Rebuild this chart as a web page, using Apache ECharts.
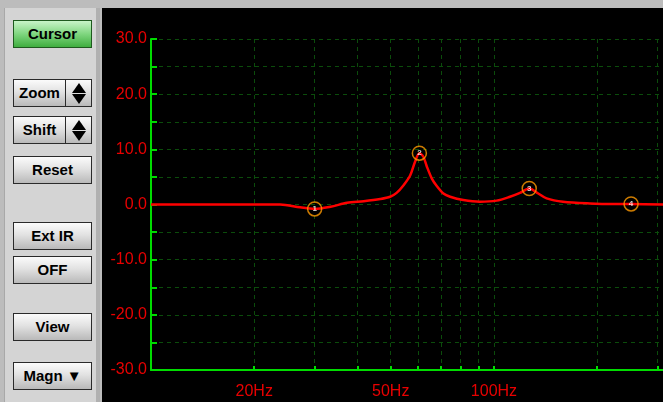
<!DOCTYPE html>
<html>
<head>
<meta charset="UTF-8">
<title>Frequency response</title>
<script src="https://cdn.jsdelivr.net/npm/echarts@6/dist/echarts.min.js"></script>
<style>
	body{
		margin:0;
		width:663px;
		height:402px;
		background:#bcbcbc;
		overflow:hidden;
		position:relative;
		font-family:"Liberation Sans", Arial, sans-serif;
	}
	#panel{
		position:absolute;
		left:4px;
		top:8px;
		width:91px;
		height:394px;
		background:#d4d4d4;
		border-left:1px solid #a8a8a8;
		border-right:4px solid #b0b0b0;
	}
	.btn{
		position:absolute;
		left:13px;
		width:77px;
		height:26px;
		line-height:26px;
		border:1px solid #2a2a2a;
		background:linear-gradient(#fbfbfb, #e2e2e2 45%, #b9b9b9);
		font-weight:bold;
		font-size:15px;
		text-align:center;
		color:#000;
		box-sizing:content-box;
	}
	.green{
		background:linear-gradient(#c8f4c8, #7fd67f 50%, #3fae3f);
		border-color:#1e5a1e;
	}
	.split{ text-align:left; }
	.split .lbl{
		position:absolute;
		left:0;
		top:0;
		width:51px;
		text-align:center;
	}
	.split .arr{
		position:absolute;
		left:51px;
		top:0;
		width:26px;
		height:26px;
		border-left:1px solid #2a2a2a;
	}
	.tri-up,.tri-dn{
		position:absolute;
		left:6px;
		width:0;
		height:0;
		border-left:7px solid transparent;
		border-right:7px solid transparent;
	}
	.tri-up{ top:3px; border-bottom:10px solid #000; }
	.tri-dn{ top:14px; border-top:10px solid #000; }
	#chart{
		position:absolute;
		left:102px;
		top:8px;
		width:561px;
		height:394px;
	}
</style>
</head>
<body>
	<div id="panel"></div>
	<div class="btn green" style="top:20px;">Cursor</div>
	<div class="btn split" style="top:79px;"><span class="lbl">Zoom</span><span class="arr"><i class="tri-up"></i><i class="tri-dn"></i></span></div>
	<div class="btn split" style="top:116px;"><span class="lbl">Shift</span><span class="arr"><i class="tri-up"></i><i class="tri-dn"></i></span></div>
	<div class="btn" style="top:156px;">Reset</div>
	<div class="btn" style="top:222px;">Ext IR</div>
	<div class="btn" style="top:256px;">OFF</div>
	<div class="btn" style="top:313px;">View</div>
	<div class="btn" style="top:362px;">Magn ▼</div>
	<div id="chart"></div>

	<script type="text/javascript">
	// frequency response curve (Hz / dB)
	var freqHz = [10, 15, 20, 23.8, 27.2, 30, 33.4, 37.3, 41.7, 46.6, 49.8, 52, 54.5, 57, 58.9, 60.6, 62.2, 63.7, 65.9, 68.1, 71.2, 74.5, 81.4, 91, 101.8, 111.3, 119.1, 126.7, 134.6, 142.4, 159, 190.3, 222.5, 251, 311];
	var gainDb = [0, 0, 0, 0, -0.5, -0.8, -0.4, 0.3, 0.6, 1.0, 1.4, 2.1, 3.5, 5.3, 7.8, 9.3, 8.7, 6.9, 4.7, 3.35, 2.0, 1.4, 0.8, 0.5, 0.7, 1.4, 2.1, 2.9, 2.0, 1.1, 0.5, 0.2, 0.1, 0.1, 0];

	// cursor markers
	var cursorNames = ['1', '2', '3', '4'];
	var cursorHz = [30, 60.6, 126.7, 251];
	var cursorDb = [-0.8, 9.3, 2.9, 0.1];

	// axis ticks / labels
	var gridHz = [20, 30, 40, 50, 60, 70, 80, 90, 100, 200, 300];
	var labelHz = [20, 50, 100];

	var green = '#00dc00';
	var gridColor = '#0b4c0b';
	var red = '#e80000';

	var curve = [];
	for (var i = 0; i < freqHz.length; i++) {
		curve.push([freqHz[i], gainDb[i]]);
	}
	var cursors = [];
	for (var j = 0; j < cursorHz.length; j++) {
		cursors.push({name: cursorNames[j], value: [cursorHz[j], cursorDb[j]]});
	}

	var myChart = echarts.init(document.getElementById('chart'));
	myChart.setOption({
		backgroundColor: '#000',
		animation: false,
		grid: {left: 49, top: 31, right: 0, bottom: 32},
		xAxis: {
			type: 'log',
			logBase: 10,
			min: 10,
			max: 311,
			axisLine: {onZero: false, lineStyle: {color: green, width: 2}},
			axisTick: {show: true, inside: true, length: 4, customValues: gridHz, lineStyle: {color: green, width: 2}},
			minorTick: {show: false},
			axisLabel: {
				customValues: labelHz,
				formatter: function (v) { return v + 'Hz'; },
				color: red,
				fontSize: 16,
				fontFamily: 'Liberation Sans',
				margin: 14
			},
			splitLine: {show: true, lineStyle: {color: gridColor, type: [4, 4], width: 1}}
		},
		yAxis: {
			type: 'value',
			min: -30,
			max: 30,
			interval: 5,
			axisLine: {show: true, onZero: false, lineStyle: {color: green, width: 2}},
			axisTick: {show: true, inside: true, length: 6, lineStyle: {color: green, width: 2}},
			axisLabel: {
				formatter: function (v) { return v % 10 === 0 ? v.toFixed(1) : ''; },
				color: red,
				fontSize: 16,
				fontFamily: 'Liberation Sans',
				margin: 4
			},
			splitLine: {show: true, lineStyle: {color: gridColor, type: [4, 4], width: 1}}
		},
		series: [
			{
				type: 'line',
				data: curve,
				showSymbol: false,
				smooth: 0.3,
				lineStyle: {color: '#ff0000', width: 2.5},
				z: 3
			},
			{
				type: 'scatter',
				data: cursors,
				symbol: 'circle',
				symbolSize: 14,
				itemStyle: {color: 'rgba(0,0,0,0)', borderColor: '#ff9a00', borderWidth: 1.5},
				label: {
					show: true,
					position: 'inside',
					formatter: '{b}',
					color: '#fff',
					fontSize: 8,
					fontWeight: 'bold'
				},
				z: 4
			}
		]
	});
	</script>
</body>
</html>
